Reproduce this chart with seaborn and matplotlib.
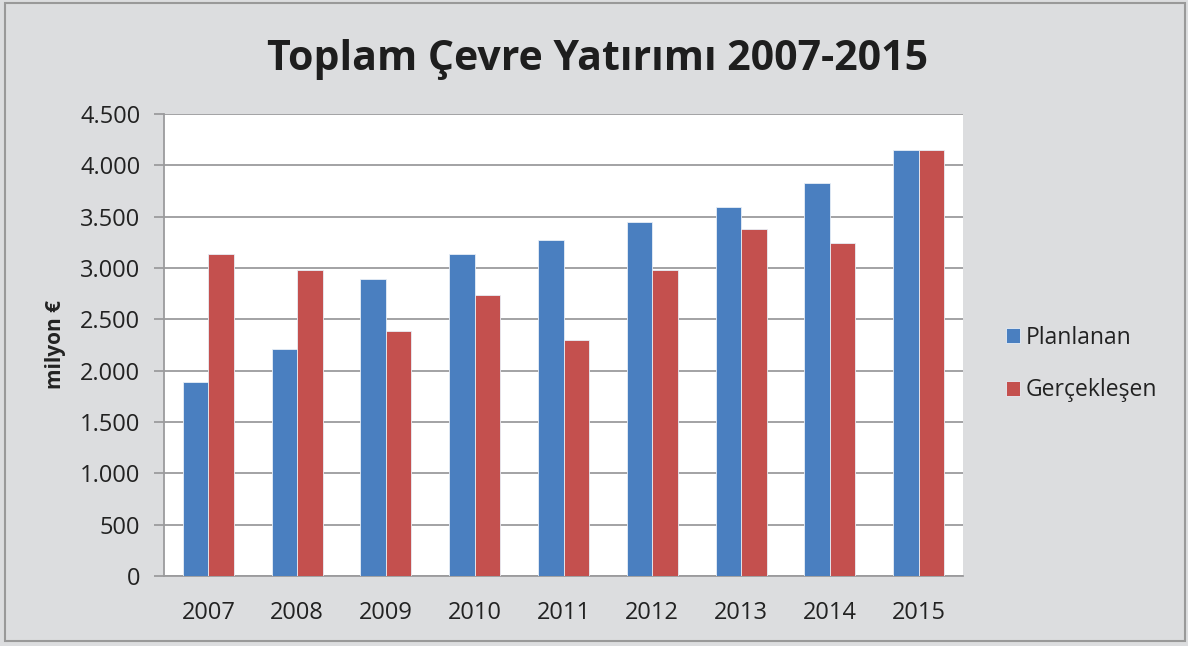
import matplotlib
matplotlib.use("Agg")
import matplotlib.pyplot as plt
import matplotlib.ticker as mticker
from matplotlib.patches import Rectangle
import seaborn as sns
import pandas as pd

years = ["2007", "2008", "2009", "2010", "2011", "2012", "2013", "2014", "2015"]
planlanan = [1886, 2207, 2890, 3139, 3276, 3451, 3594, 3832, 4153]
gerceklesen = [3136, 2980, 2390, 2737, 2299, 2980, 3380, 3240, 4146]
series_names = ["Planlanan", "Gerçekleşen"]
yticks = [0, 500, 1000, 1500, 2000, 2500, 3000, 3500, 4000, 4500]

df = pd.DataFrame({
    "Yıl": years * 2,
    "Değer": planlanan + gerceklesen,
    "Seri": [series_names[0]] * len(years) + [series_names[1]] * len(years),
})

sns.set_theme(style="white")
plt.rcParams["font.family"] = ["Open Sans", "DejaVu Sans"]

bg = "#DCDDDF"
fig = plt.figure(figsize=(11.88, 6.46), dpi=100, facecolor=bg)
ax = fig.add_axes([164 / 1188, 1 - 576 / 646, (963 - 164) / 1188, (576 - 114) / 646])
ax.set_facecolor("white")

palette = {"Planlanan": "#4A7FC0", "Gerçekleşen": "#C4504E"}
sns.barplot(data=df, x="Yıl", y="Değer", hue="Seri", palette=palette,
            width=0.575, ax=ax, saturation=1, edgecolor="#E8EEF6", linewidth=0.6,
            legend=True, zorder=3)

ax.set_ylim(0, 4500)
ax.set_yticks(yticks)
ax.yaxis.set_major_formatter(mticker.FuncFormatter(lambda v, p: f"{int(v):,}".replace(",", ".")))
ax.yaxis.grid(True, color="#9B9B9D", linewidth=1.3, zorder=0)
ax.set_axisbelow(True)
for s in ["top", "right"]:
    ax.spines[s].set_visible(False)
for s in ["left", "bottom"]:
    ax.spines[s].set_color("#9B9B9D")
    ax.spines[s].set_linewidth(1.3)
ax.tick_params(axis="y", which="major", left=True, length=7, width=1.3, color="#9B9B9D",
               pad=10, labelsize=17, labelcolor="#222222")
ax.tick_params(axis="x", bottom=False, pad=12, labelsize=17, labelcolor="#222222")
ax.set_xlabel("")
ax.set_ylabel("")
fig.text(56 / 1188, 1 - 345 / 646, "milyon €", rotation=90, ha="center", va="center",
         fontsize=15, fontweight="bold", color="#222222")

fig.text(0.503, 1 - 60 / 646, "Toplam Çevre Yatırımı 2007-2015", ha="center", va="center",
         fontsize=29.5, fontweight="bold", color="#1E1E1E")

handles, labels = ax.get_legend_handles_labels()
ax.legend(handles, labels, loc="center left", bbox_to_anchor=(997 / 1188, 1 - 364 / 646),
          bbox_transform=fig.transFigure, frameon=False, fontsize=16.5,
          handlelength=0.6, handleheight=0.6, handletextpad=0.25, labelspacing=1.25,
          borderaxespad=0, labelcolor="#222222")

fig.patches.append(Rectangle((5 / 1188, 1 - 641 / 646), (1185 - 5) / 1188, (641 - 3) / 646,
                             transform=fig.transFigure, fill=False, edgecolor="#999999",
                             linewidth=1.5, zorder=10))

fig.savefig("out.png", dpi=100, facecolor=bg)
